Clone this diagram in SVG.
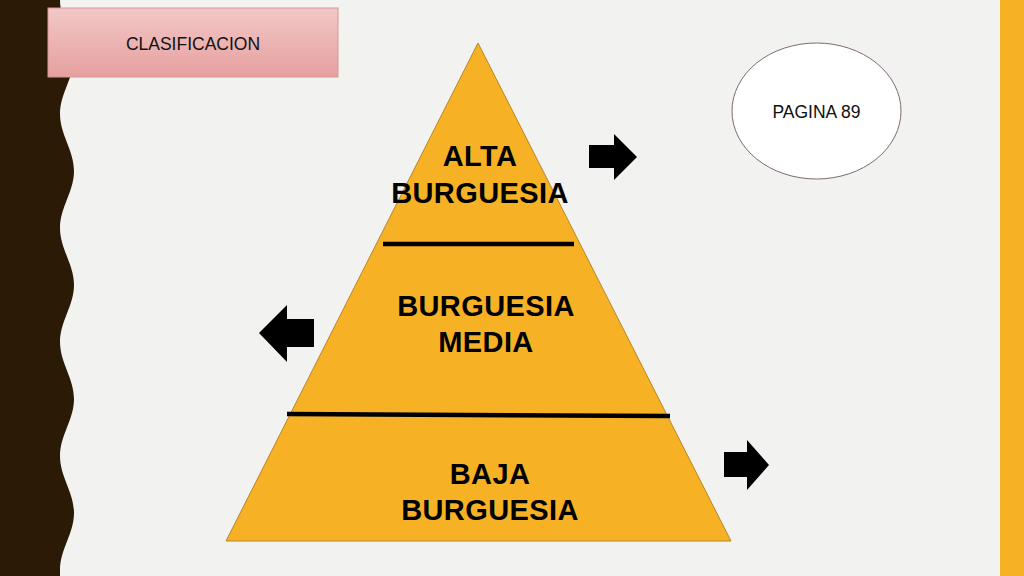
<svg xmlns="http://www.w3.org/2000/svg" width="1024" height="576" viewBox="0 0 1024 576">
<defs>
<linearGradient id="pink" x1="0" y1="0" x2="0" y2="1">
<stop offset="0" stop-color="#f2c8c7"/>
<stop offset="1" stop-color="#e5a09f"/>
</linearGradient>
<style>
.big{font-family:"Liberation Sans",Arial,sans-serif;font-weight:bold;font-size:29px;fill:#000;text-anchor:middle;letter-spacing:0.4px}
.small{font-family:"Liberation Sans",Arial,sans-serif;font-size:17.5px;fill:#111;text-anchor:middle}
.sep{stroke:#000;stroke-width:4.5;fill:none}
.arrow{fill:#000}
</style>
</defs>
<rect width="1024" height="576" fill="#f2f2f0"/>
<rect x="1000" y="0" width="24" height="576" fill="#f6b224"/>
<path d="M0,0 H60 C60,21 74,36 74,57 S60,93 60,114 S74,150 74,171 S60,207 60,228 S74,264 74,285 S60,321 60,342 S74,378 74,399 S60,435 60,456 S74,492 74,513 S60,549 60,570 L60,576 H0 Z" fill="#2b1a05"/>

<g id="clasificacion">
<rect x="48" y="8" width="290" height="69" fill="url(#pink)" stroke="#d99594" stroke-width="1"/>
<text class="small" x="193" y="50">CLASIFICACION</text>
</g>

<g id="pagina">
<ellipse cx="816.5" cy="111" rx="84.5" ry="68" fill="#ffffff" stroke="#7d6a74" stroke-width="1"/>
<text class="small" x="816.5" y="118">PAGINA 89</text>
</g>

<g id="piramide">
<polygon points="478,43 731,541 226,541" fill="#f6b224" stroke="#b7862a" stroke-width="1"/>
<line class="sep" x1="383" y1="244" x2="574" y2="244"/>
<line class="sep" x1="287" y1="414" x2="670" y2="416"/>
</g>

<g id="alta">
<text class="big" x="480" y="166">ALTA</text>
<text class="big" x="480" y="203">BURGUESIA</text>
</g>

<g id="media">
<text class="big" x="486" y="316">BURGUESIA</text>
<text class="big" x="486" y="352">MEDIA</text>
</g>

<g id="baja">
<text class="big" x="490" y="484">BAJA</text>
<text class="big" x="490" y="520">BURGUESIA</text>
</g>

<g id="arrows">
<polygon class="arrow" points="589,145 614,145 614,134 637,157 614,180 614,168 589,168"/>
<polygon class="arrow" points="259,333 287,305 287,319 314,319 314,347 287,347 287,362"/>
<polygon class="arrow" points="724,452 747,452 747,440 769,465 747,490 747,477 724,477"/>
</g>
</svg>
